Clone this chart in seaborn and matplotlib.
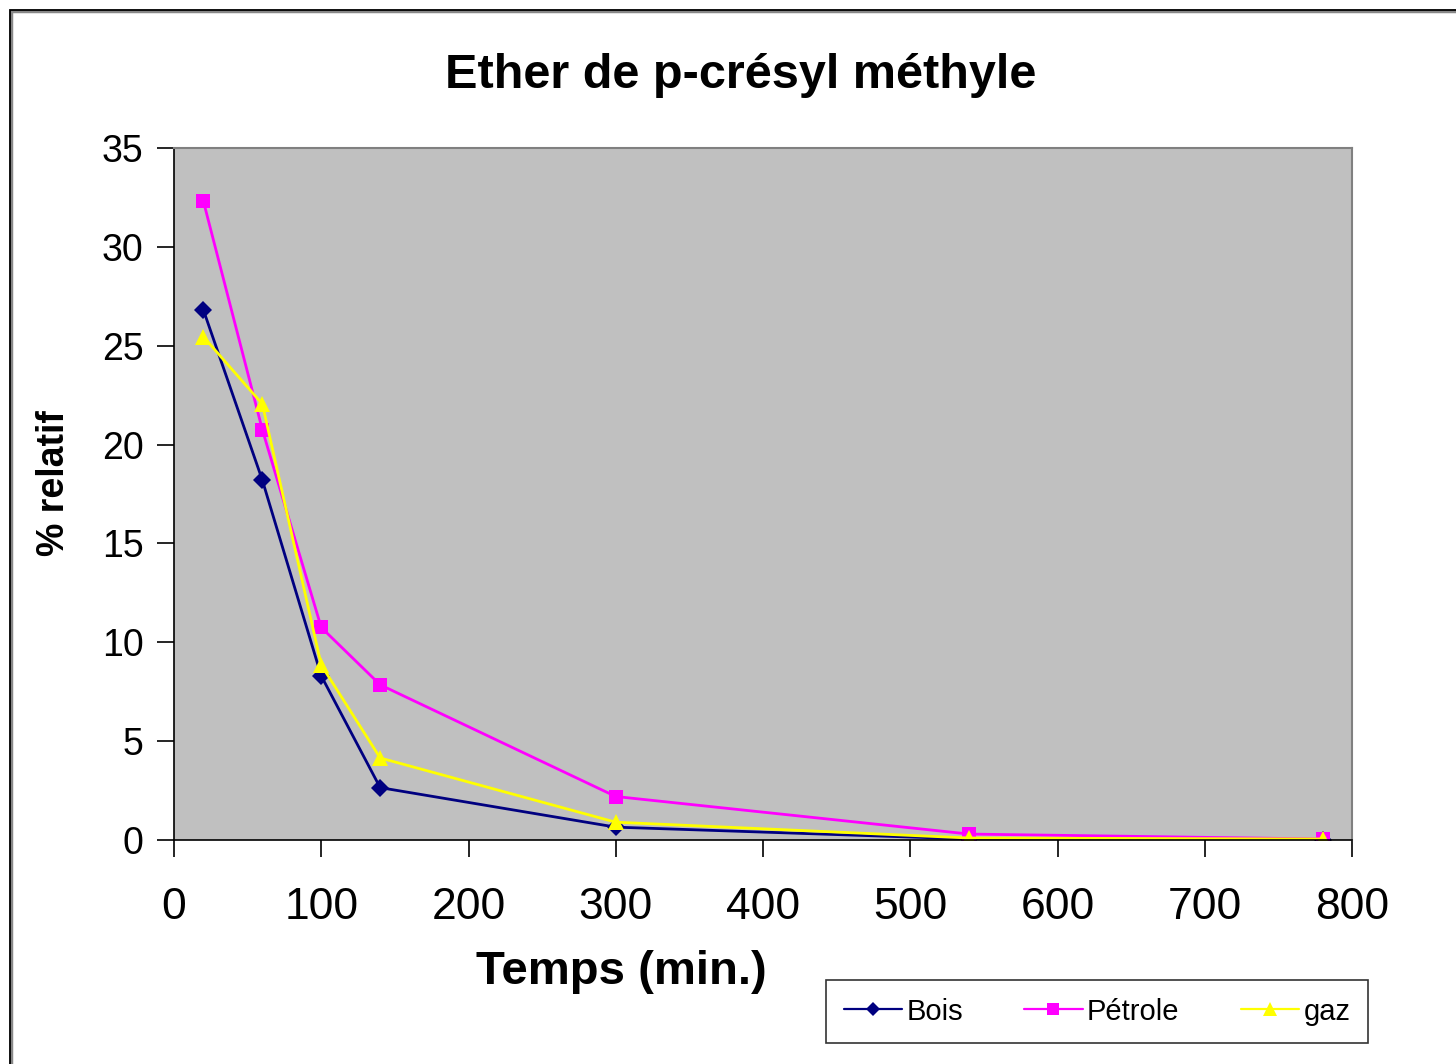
import matplotlib
matplotlib.use("Agg")
import matplotlib.pyplot as plt
import seaborn as sns
import pandas as pd
from matplotlib.patches import Rectangle
from matplotlib.lines import Line2D

temps = [20, 60, 100, 140, 300, 540, 780]
bois = [26.8, 18.2, 8.3, 2.65, 0.65, 0.05, 0.02]
petrole = [32.3, 20.75, 10.75, 7.85, 2.2, 0.3, 0.05]
gaz = [25.45, 22.05, 8.85, 4.15, 0.9, 0.1, 0.05]
series_names = ["Bois", "Pétrole", "gaz"]
colors = ["#000080", "#FF00FF", "#FFFF00"]
markers = ["D", "s", "^"]
xticks = [0, 100, 200, 300, 400, 500, 600, 700, 800]
yticks = [0, 5, 10, 15, 20, 25, 30, 35]

rows = []
for name, vals in zip(series_names, [bois, petrole, gaz]):
    for t, v in zip(temps, vals):
        rows.append({"Temps": t, "val": v, "serie": name})
df = pd.DataFrame(rows)

sns.set_theme(style="white")
plt.rcParams["font.family"] = ["Liberation Sans", "DejaVu Sans"]
plt.rcParams["text.color"] = "black"
plt.rcParams["axes.labelcolor"] = "black"
plt.rcParams["xtick.color"] = "black"
plt.rcParams["ytick.color"] = "black"

fig = plt.figure(figsize=(14.56, 10.64), dpi=100)
ax = fig.add_axes([174/1456, 1-840/1064, (1352-174)/1456, (840-148)/1064])
ax.set_facecolor("#C0C0C0")

sns.lineplot(data=df, x="Temps", y="val", hue="serie", style="serie",
             hue_order=series_names, style_order=series_names,
             palette=dict(zip(series_names, colors)),
             markers=dict(zip(series_names, markers)),
             dashes=False, linewidth=2.0, markersize=9,
             markeredgewidth=0, ax=ax, legend=False)
for line, ms in zip(ax.get_lines(), [9, 10, 12]):
    line.set_markersize(ms)

ax.set_xlim(0, 800)
ax.set_ylim(0, 35)
ax.set_xticks(xticks)
ax.set_yticks(yticks)
ax.tick_params(axis="x", direction="out", length=12, width=1.2, labelsize=32, pad=22, bottom=True, colors="black")
ax.tick_params(axis="y", direction="out", length=12, width=1.2, labelsize=27, pad=10, left=True, colors="black")
for s in ["left", "bottom"]:
    ax.spines[s].set_color("black")
    ax.spines[s].set_linewidth(1.2)
for s in ["top", "right"]:
    ax.spines[s].set_color("#808080")
    ax.spines[s].set_linewidth(1.5)

ax.set_xlabel("")
ax.set_ylabel("")
fig.text(621/1456, 1-972/1064, "Temps (min.)", fontsize=34, fontweight="bold",
         ha="center", va="center")
fig.text(54/1456, 1-483/1064, "% relatif", fontsize=27, fontweight="bold",
         ha="center", va="center", rotation=90)
fig.text(741/1456, 1-75/1064, "Ether de p-crésyl méthyle", fontsize=35,
         fontweight="bold", ha="center", va="center")

# legend
handles = [Line2D([0], [0], color=c, marker=m, lw=1.6, markersize=ms, markeredgewidth=0)
           for c, m, ms in zip(colors, markers, [7, 9, 10])]
leg = fig.legend(handles, series_names, loc="lower left",
                 bbox_to_anchor=(826/1456, 1-1043/1064, (1368-826)/1456, (1043-982)/1064),
                 mode="expand", ncol=3, fontsize=21, frameon=True, fancybox=False,
                 handlelength=2.0, handletextpad=0.15, borderaxespad=0, borderpad=0.6,
                 columnspacing=2.5)
leg.get_frame().set_edgecolor("black")
leg.get_frame().set_linewidth(1.2)

# outer chart border
fig.patches.append(Rectangle((11/1456, -0.05), 1.2, 1-11/1064+0.05, transform=fig.transFigure,
                             fill=False, edgecolor="#888888", linewidth=2.5, zorder=0))
fig.patches.append(Rectangle((10/1456, -0.05), 1.2, 1-10/1064+0.05, transform=fig.transFigure,
                             fill=False, edgecolor="black", linewidth=1.3, zorder=1))

fig.savefig("out.png", dpi=100, facecolor="white")
